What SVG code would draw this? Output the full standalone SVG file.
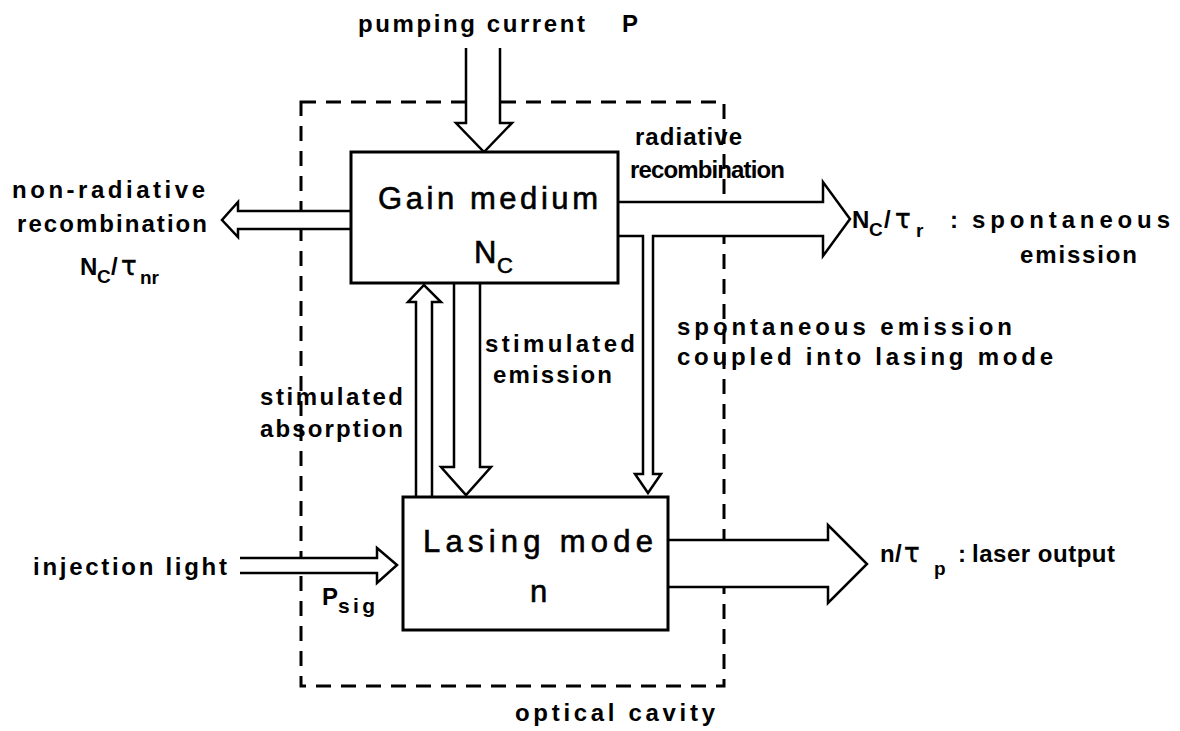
<svg xmlns="http://www.w3.org/2000/svg" width="1180" height="731" viewBox="0 0 1180 731">
  <style>
    .lbl { font-family: "Liberation Sans", Arial, sans-serif; font-weight: bold; font-size: 24px; fill: #000; }
    .ttl { font-family: "Liberation Sans", Arial, sans-serif; font-size: 31px; fill: #000; stroke: #000; stroke-width: 0.6; }
    .sub { font-size: 19px; }
    .tau { font-family: "DejaVu Sans", sans-serif; font-weight: normal; font-size: 26px; stroke: #000; stroke-width: 0.5; }
    .box { fill: #fff; stroke: #000; stroke-width: 3; }
    .arrow { fill: #fff; stroke: #000; stroke-width: 2.5; stroke-linejoin: miter; }
    .cavity { fill: none; stroke: #000; stroke-width: 3; stroke-dasharray: 15 10; }
  </style>
  <rect width="1180" height="731" fill="#fff"/>

  <!-- optical cavity outline -->
  <g id="cavity">
    <rect class="cavity" x="301" y="102" width="423" height="584"/>
    <text class="lbl" x="515" y="721" textLength="200" lengthAdjust="spacing">optical cavity</text>
  </g>

  <!-- connectors: hollow block arrows -->
  <g id="connectors">
    <!-- pumping current -->
    <path class="arrow" d="M466,48 L466,123 L456,123 L484,152 L512,123 L500,123 L500,48"/>
    <!-- non-radiative recombination -->
    <path class="arrow" d="M351,211 L238,211 L238,202 L222,220 L238,237 L238,229 L351,229"/>
    <!-- radiative recombination with branch into lasing mode -->
    <path class="arrow" d="M618,202 L823,202 L823,182 L850,219 L823,256 L823,236 L653,236 L653,474 L661,474 L648,493 L635,474 L643,474 L643,236 L618,236"/>
    <!-- stimulated emission -->
    <path class="arrow" d="M454,283 L454,467 L441,467 L466,495 L491,467 L480,467 L480,283"/>
    <!-- stimulated absorption -->
    <path class="arrow" d="M416,497 L416,302 L408,302 L424,285 L441,302 L432,302 L432,497"/>
    <!-- injection light -->
    <path class="arrow" d="M240,558 L377,558 L377,548 L397,565 L377,583 L377,573 L240,573"/>
    <!-- laser output -->
    <path class="arrow" d="M668,540 L828,540 L828,525 L867,564 L828,603 L828,587 L668,587"/>
  </g>

  <g id="gain-medium">
    <rect class="box" x="351" y="152" width="267" height="131"/>
    <text class="ttl" x="378" y="209" textLength="220" lengthAdjust="spacing">Gain medium</text>
    <text class="ttl" font-size="27"><tspan x="474" y="263">N</tspan><tspan x="497" y="273" font-size="22">C</tspan></text>
  </g>

  <g id="lasing-mode">
    <rect class="box" x="403" y="497" width="265" height="133"/>
    <text class="ttl" x="423" y="552" textLength="230" lengthAdjust="spacing">Lasing mode</text>
    <text class="ttl" x="530" y="602">n</text>
  </g>

  <!-- labels -->
  <g id="labels">
    <text class="lbl"><tspan x="358" y="32" textLength="227" lengthAdjust="spacing">pumping current</tspan><tspan x="622" y="32">P</tspan></text>

    <text class="lbl" font-size="22px"><tspan x="635" y="145" textLength="107" lengthAdjust="spacing">radiative</tspan><tspan x="630" y="178" textLength="155" lengthAdjust="spacing">recombination</tspan></text>

    <text class="lbl"><tspan x="12" y="198" textLength="193" lengthAdjust="spacing">non-radiative</tspan><tspan x="17" y="232" textLength="190" lengthAdjust="spacing">recombination</tspan></text>
    <text class="lbl"><tspan x="80" y="275">N</tspan><tspan class="sub" x="97" y="283">C</tspan><tspan x="111" y="275">/</tspan><tspan class="tau" x="121" y="275">τ</tspan><tspan class="sub" x="140" y="284" font-size="20">nr</tspan></text>

    <text class="lbl"><tspan x="852" y="228">N</tspan><tspan class="sub" x="869" y="236">C</tspan><tspan x="884" y="228">/</tspan><tspan class="tau" x="895" y="228">τ</tspan><tspan class="sub" x="916" y="237" font-size="20">r</tspan><tspan x="950" y="228">:</tspan><tspan x="972" y="228" textLength="198" lengthAdjust="spacing">spontaneous</tspan><tspan x="1020" y="263" textLength="117" lengthAdjust="spacing">emission</tspan></text>

    <text class="lbl"><tspan x="485" y="352" textLength="150" lengthAdjust="spacing">stimulated</tspan><tspan x="493" y="383" textLength="119" lengthAdjust="spacing">emission</tspan></text>

    <text class="lbl"><tspan x="260" y="405" textLength="143" lengthAdjust="spacing">stimulated</tspan><tspan x="260" y="437" textLength="143" lengthAdjust="spacing">absorption</tspan></text>

    <text class="lbl"><tspan x="677" y="335" textLength="335" lengthAdjust="spacing">spontaneous  emission</tspan><tspan x="677" y="365" textLength="376" lengthAdjust="spacing">coupled into lasing mode</tspan></text>

    <text class="lbl" x="33" y="575" textLength="194" lengthAdjust="spacing">injection light</text>
    <text class="lbl"><tspan x="322" y="605">P</tspan><tspan x="338" y="613" font-size="21" textLength="37" lengthAdjust="spacing">sig</tspan></text>

    <text class="lbl"><tspan x="880" y="562">n</tspan><tspan x="895" y="562">/</tspan><tspan class="tau" x="904" y="562">τ</tspan><tspan class="sub" x="934" y="575" font-size="21">p</tspan><tspan x="958" y="562">:</tspan><tspan x="972" y="562" textLength="143" lengthAdjust="spacing">laser output</tspan></text>
  </g>
</svg>
